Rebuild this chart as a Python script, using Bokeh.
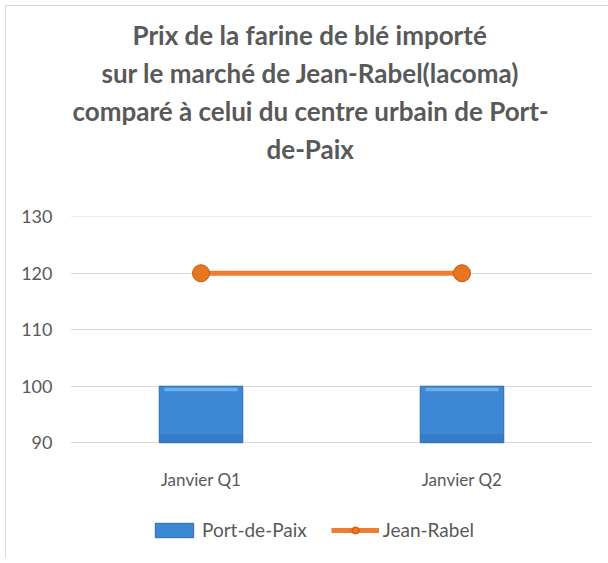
from bokeh.plotting import figure
from bokeh.models import Legend, LegendItem, Range1d, FactorRange, ColumnDataSource, Title
from bokeh.embed import file_html
from bokeh.resources import INLINE

categories = ["Janvier Q1", "Janvier Q2"]
port_de_paix = [100, 100]
jean_rabel = [120, 120]
y_ticks = [90, 100, 110, 120, 130]

title_lines = [
    "Prix de la farine de blé importé",
    "sur le marché de Jean-Rabel(lacoma)",
    "comparé à celui du centre urbain de Port-",
    "de-Paix",
]
# left offsets (px) that centre each title line over the chart area
title_offsets = [62, 31, 2, 196]

# the frame runs down to the legend; the value axis only shows 90..130
p = figure(frame_width=522, frame_height=342, x_range=FactorRange(*categories),
           y_range=Range1d(69.5, 130.05),
           output_backend="svg", toolbar_location=None, title=None,
           min_border_left=64, min_border_right=16, min_border_top=210, min_border_bottom=0)
p.styles = {"margin-left": "5px", "margin-top": "5px",
            "border-left": "1px solid #d9d9d9", "border-top": "1px solid #d9d9d9"}
p.outline_line_color = None
p.background_fill_color = "white"
p.border_fill_color = "white"

# spacer between the plot and the title block
p.add_layout(Title(text=" ", text_font_size="43px", standoff=0), "above")
# title lines, added from the one nearest to the plot outward
for txt, off in reversed(list(zip(title_lines, title_offsets))):
    t = Title(text=txt, align="left", offset=off, text_font="Lato", text_font_size="26px",
              text_font_style="bold", text_color="#595959", standoff=4)
    p.add_layout(t, "above")

src = ColumnDataSource(dict(cat=categories, pdp=port_de_paix, jr=jean_rabel,
                            base=[90] * len(categories)))

bars = p.vbar(x="cat", top="pdp", bottom="base", width=0.32, source=src,
              fill_color="#3d88d5", line_color="#2f6aa8", line_width=1)
# bevel highlight near the top and shading near the bottom of each bar
hl_top = [v - 0.25 for v in port_de_paix]
hl_bot = [v - 0.9 for v in port_de_paix]
p.vbar(x=categories, top=hl_top, bottom=hl_bot, width=0.28,
       fill_color="#74b9ef", fill_alpha=0.8, line_color=None)
p.vbar(x=categories, top=[91.5] * 2, bottom=[90] * 2, width=0.32,
       fill_color="#2f72ba", fill_alpha=0.5, line_color=None)

line = p.line(x="cat", y="jr", source=src, line_color="#ed7d31", line_width=5)
pts = p.scatter(x="cat", y="jr", source=src, size=17, marker="circle",
                fill_color="#e8751f", line_color="#c05a12", line_width=1)

p.xgrid.grid_line_color = None
p.ygrid.grid_line_color = "#d9d9d9"
p.ygrid.grid_line_width = 1
p.yaxis.ticker = y_ticks
p.ygrid.ticker = y_ticks
p.xaxis.fixed_location = 90
for ax in (p.xaxis, p.yaxis):
    ax.axis_line_color = None
    ax.major_tick_line_color = None
    ax.minor_tick_line_color = None
    ax.major_label_text_font = "Lato"
    ax.major_label_text_color = "#595959"
p.xaxis.major_label_text_font_size = "17px"
p.yaxis.major_label_text_font_size = "18px"
p.yaxis.major_label_standoff = 12
p.xaxis.major_label_standoff = 20

legend = Legend(items=[LegendItem(label="Port-de-Paix", renderers=[bars]),
                       LegendItem(label="Jean-Rabel", renderers=[line, pts])],
                orientation="horizontal", location=(80, 17),
                label_text_font="Lato", label_text_font_size="19px",
                label_text_color="#595959", glyph_width=48, glyph_height=18,
                spacing=24, label_standoff=4, border_line_color=None,
                background_fill_alpha=0, padding=4, margin=0)
p.add_layout(legend, "center")

open("out.html", "w").write(file_html(p, INLINE))
